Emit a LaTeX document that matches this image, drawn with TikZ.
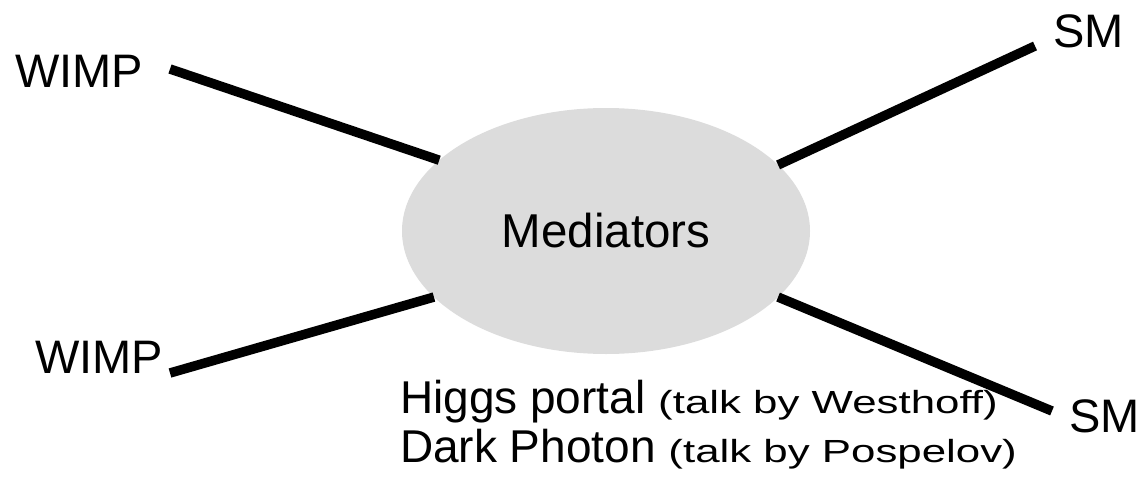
\documentclass[tikz,border=0pt]{standalone}
\usepackage{fontspec}
\usepackage{graphicx}
\setmainfont{Liberation Sans}
\usetikzlibrary{shapes.geometric}
\definecolor{medgray}{RGB}{220,220,220}
\newcommand{\talk}[1]{\scalebox{1.37}[1]{\fontsize{32}{36}\selectfont #1}}
\begin{document}
\begin{tikzpicture}[x=1pt,y=-1pt,
  lbl/.style={font=\fontsize{47}{50}\selectfont, inner sep=0pt, outer sep=0pt, anchor=base west},
  note/.style={font=\fontsize{46}{50}\selectfont, inner sep=0pt, outer sep=0pt, anchor=base west},
  leg/.style={line width=9.5pt, line cap=butt},
  medstyle/.style={ellipse, fill=medgray, draw=none, minimum width=408pt, minimum height=246pt,
    inner sep=0pt, outer sep=0pt, font=\fontsize{47.5}{50}\selectfont}]
\useasboundingbox (0,0) rectangle (1141,477);
\node[medstyle] (med) at (606,231) {Mediators};
\node[lbl] (w1) at (15,87) {WIMP};
\node[lbl] (w2) at (35,373) {WIMP};
\node[lbl] (s1) at (1053,47) {SM};
\node[lbl] (s2) at (1069,432) {SM};
\coordinate (w1e) at (170,69);
\coordinate (w2e) at (170,373);
\coordinate (s1e) at (1035,46);
\coordinate (s2e) at (1052,411);
\draw[leg] (w1e) -- (med.157.7);
\draw[leg] (w2e) -- (med.201.7);
\draw[leg] (s1e) -- (med.21.2);
\draw[leg] (s2e) -- (med.339.4);
\node[note] (hp) at (400,413) {Higgs portal \talk{(talk by Westhoff)}};
\node[note] (dp) at (400,462) {Dark Photon \talk{(talk by Pospelov)}};
\end{tikzpicture}
\end{document}
